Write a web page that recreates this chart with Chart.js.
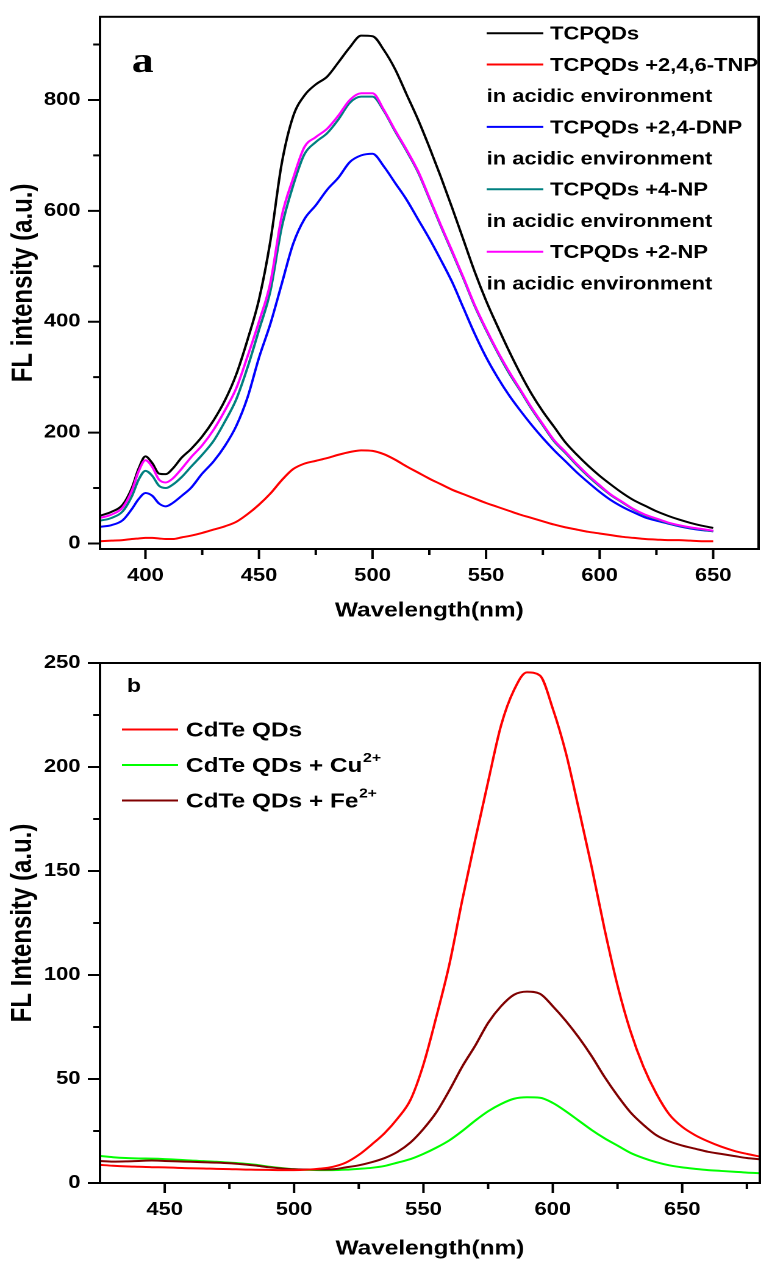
<!DOCTYPE html>
<html>
<head>
<meta charset="utf-8">
<script src="https://cdn.jsdelivr.net/npm/chart.js@4/dist/chart.umd.min.js"></script>
<style>
  html, body { margin: 0; padding: 0; background: #ffffff; width: 761px; height: 1266px; overflow: hidden; }
  .wrap { position: absolute; left: 0; transform-origin: 0 0; transform: scaleX(1.2196); }
</style>
</head>
<body>
<div class="wrap" style="top:0px;width:624px;height:632px;"><canvas id="chartA" width="624" height="632"></canvas></div>
<div class="wrap" style="top:632px;width:624px;height:634px;"><canvas id="chartB" width="624" height="634"></canvas></div>
<script>
// ---------------- Panel a data ----------------
const aWavelength = [380,385,390,394,397,400,403,406,409,412,416,420,425,430,435,440,445,450,455,460,465,470,475,480,485,490,495,500,505,510,515,520,525,530,535,540,545,550,555,560,565,570,575,580,585,590,595,600,605,610,615,620,625,630,635,640,645,650];
const aTCPQDs = [50,57,70,100,135,157,145,126,125,135,155,170,193,222,258,305,368,440,545,685,770,808,828,842,868,895,916,915,890,855,810,765,715,662,606,548,490,438,392,348,307,270,238,210,182,160,140,122,106,91,78,68,58,50,43,37,32,28];
const aTNP = [4,5,6,8,9,10,10,9,8,8,11,14,19,25,31,39,53,70,90,114,134,144,149,154,160,165,168,167,161,151,139,128,117,107,97,89,81,73,66,59,52,46,40,34,29,25,21,18,15,12,10,8,7,6,6,5,4,4];
const aDNP = [30,33,42,62,80,91,86,72,67,73,86,100,126,148,176,212,264,335,396,468,540,585,610,638,660,688,700,703,680,650,620,585,550,512,472,425,378,336,300,268,240,214,190,168,148,128,110,93,78,66,56,47,41,36,31,27,24,22];
const a4NP = [41,46,58,85,115,131,122,104,100,106,120,138,160,185,220,260,318,385,455,570,645,702,724,740,765,795,806,806,780,743,708,670,622,573,526,478,428,385,345,308,276,243,213,184,163,141,121,103,87,74,61,51,44,37,32,28,25,22];
const a2NP = [46,52,65,95,130,150,138,115,110,117,135,155,177,205,240,280,338,400,470,590,658,715,733,748,772,800,812,812,782,745,710,672,624,575,528,480,430,387,347,311,278,245,215,186,165,143,123,105,88,75,62,52,45,38,33,29,26,23];
const aSeriesLines = [
  ['TCPQDs'],
  ['TCPQDs +2,4,6-TNP', 'in acidic environment'],
  ['TCPQDs +2,4-DNP', 'in acidic environment'],
  ['TCPQDs +4-NP', 'in acidic environment'],
  ['TCPQDs +2-NP', 'in acidic environment']
];
const aColors = ['#000000', '#ff0000', '#0000ff', '#008080', '#ff00ff'];
const aXMajor = [400,450,500,550,600,650];
const aXMinor = [425,475,525,575,625];
const aYMajor = [0,200,400,600,800];
const aYMinor = [100,300,500,700,900];

// ---------------- Panel b data ----------------
const bWavelength = [425,430,435,440,445,450,455,460,465,470,475,480,485,490,495,500,505,510,515,520,525,530,535,540,545,550,555,560,565,570,575,580,585,590,595,600,605,610,615,620,625,630,635,640,645,650,655,660,665,670,675,680];
const bCdTe = [8.7,8.3,8.0,7.8,7.6,7.5,7.3,7.1,7.0,6.8,6.7,6.5,6.4,6.3,6.2,6.2,6.4,6.9,7.8,9.8,13.5,18.5,24,31,40,57,80,105,136,165,193,220,237,245.5,244,228,207,180,152,122,95,73,56,43,33,27,23,20,17.5,15.5,14,12.7];
const bCu = [13,12.4,12,11.8,11.7,11.5,11.2,10.8,10.5,10.2,9.8,9.4,8.8,7.9,7.2,6.6,6.3,6.2,6.2,6.4,6.8,7.3,8.2,9.8,11.5,14,17,20.5,25,30,34.5,38,40.5,41.2,41,38.5,34.5,30,25.5,21.5,18,14.5,12,10,8.5,7.5,6.8,6.2,5.8,5.4,5,4.7];
const bFe = [10.6,10.3,10.4,10.6,10.8,10.6,10.4,10.2,10,9.8,9.5,9,8.4,7.6,7,6.6,6.5,6.5,6.6,7.5,8.5,10,12,15,19.5,26,34,44.5,56,66,77,85,90.5,92,91,85,78,70,61,51,42,34,28,23,20,18,16.5,15,14,13,12,11.4];
const bSeriesLines = [
  [['CdTe QDs']],
  [['CdTe QDs + Cu', '2+']],
  [['CdTe QDs + Fe', '2+']]
];
const bColors = ['#ff0000', '#00ff00', '#800000'];
const bXMajor = [450,500,550,600,650];
const bXMinor = [475,525,575,625,675];
const bYMajor = [0,50,100,150,200,250];
const bYMinor = [25,75,125,175,225];

// ---------------- helpers ----------------
const FAMILY = '"Liberation Sans", Arial, Helvetica, sans-serif';
Chart.defaults.font.family = FAMILY;
Chart.defaults.font.weight = 'bold';
Chart.defaults.color = '#000';

function pts(xs, ys) { return xs.map((x, i) => ({ x: x, y: ys[i] })); }
function labelOf(lines) { return lines.map(l => Array.isArray(l) ? l.join('') : l).join(' '); }

const frame = {
  id: 'frame',
  afterDatasetsDraw(chart, args, o) {
    const ctx = chart.ctx, a = chart.chartArea, x = chart.scales.x, y = chart.scales.y;
    ctx.save();
    ctx.strokeStyle = '#000';
    ctx.lineWidth = 2;
    ctx.strokeRect(a.left, a.top, a.right - a.left, a.bottom - a.top);
    ctx.beginPath();
    o.xMajor.forEach(v => { const p = x.getPixelForValue(v); ctx.moveTo(p, a.bottom); ctx.lineTo(p, a.bottom + 10); });
    o.xMinor.forEach(v => { const p = x.getPixelForValue(v); ctx.moveTo(p, a.bottom); ctx.lineTo(p, a.bottom + 6); });
    o.yMajor.forEach(v => { const p = y.getPixelForValue(v); ctx.moveTo(a.left, p); ctx.lineTo(a.left - 10, p); });
    o.yMinor.forEach(v => { const p = y.getPixelForValue(v); ctx.moveTo(a.left, p); ctx.lineTo(a.left - 5.5, p); });
    ctx.stroke();
    ctx.restore();
  }
};

const seriesKey = {
  id: 'seriesKey',
  afterDraw(chart, args, o) {
    const ctx = chart.ctx;
    ctx.save();
    ctx.textBaseline = 'alphabetic';
    ctx.textAlign = 'left';
    ctx.fillStyle = '#000';
    let row = 0;
    o.entries.forEach((lines, i) => {
      const ds = chart.data.datasets[i];
      lines.forEach((ln, j) => {
        const cy = o.top + row * o.step;
        const base = cy + o.fontSize * 0.716 / 2;
        let tx = o.textX;
        if (j === 0) {
          ctx.strokeStyle = ds.borderColor;
          ctx.lineWidth = 2;
          ctx.beginPath();
          ctx.moveTo(o.lineX0, cy);
          ctx.lineTo(o.lineX1, cy);
          ctx.stroke();
        } else {
          tx = o.lineX0;
        }
        const parts = Array.isArray(ln) ? ln : [ln];
        ctx.font = 'bold ' + o.fontSize + 'px ' + FAMILY;
        ctx.fillText(parts[0], tx, base);
        if (parts[1]) {
          const w = ctx.measureText(parts[0]).width;
          ctx.font = 'bold ' + o.supSize + 'px ' + FAMILY;
          ctx.fillText(parts[1], tx + w + 0.5, base - o.supRaise);
        }
        row++;
      });
    });
    if (o.letter) {
      ctx.font = o.letter.font;
      ctx.fillText(o.letter.text, o.letter.x, o.letter.y);
    }
    ctx.restore();
  }
};

function axisX(min, max, majors, title, titlePadBottom, height) {
  return {
    type: 'linear', position: 'bottom', min: min, max: max,
    afterBuildTicks: ax => { ax.ticks = majors.map(v => ({ value: v })); },
    afterFit: ax => { ax.height = height; },
    grid: { display: true, drawOnChartArea: false, drawTicks: true, tickLength: 10, color: 'rgba(0,0,0,0)' },
    border: { display: false },
    ticks: { padding: 6, autoSkip: false, maxRotation: 0, minRotation: 0, color: '#000', font: { size: 18, weight: 'bold' }, callback: v => String(v) },
    title: { display: true, text: title, color: '#000', font: { size: 20, weight: 'bold' }, padding: { top: 0, bottom: titlePadBottom } }
  };
}
function axisY(min, max, majors, title, titlePadTop, width, titleSize) {
  return {
    type: 'linear', position: 'left', min: min, max: max,
    afterBuildTicks: ax => { ax.ticks = majors.map(v => ({ value: v })); },
    afterFit: ax => { ax.width = width; },
    grid: { display: true, drawOnChartArea: false, drawTicks: true, tickLength: 10, color: 'rgba(0,0,0,0)' },
    border: { display: false },
    ticks: { padding: 6, autoSkip: false, color: '#000', font: { size: 18, weight: 'bold' }, callback: v => String(v) },
    title: { display: true, text: title, color: '#000', font: { size: titleSize, weight: 'bold' }, padding: { top: titlePadTop, bottom: 0 } }
  };
}
function lineSet(label, color, data, order) {
  return { label: label, data: data, borderColor: color, backgroundColor: color, borderWidth: 2, pointRadius: 0, pointHoverRadius: 0, fill: false, cubicInterpolationMode: 'monotone', order: order };
}

// ---------------- Panel a ----------------
const aValues = [aTCPQDs, aTNP, aDNP, a4NP, a2NP];
const aOrder = [2, 4, 3, 1, 0];
new Chart(document.getElementById('chartA'), {
  type: 'line',
  data: { datasets: aValues.map((vals, i) => lineSet(labelOf(aSeriesLines[i]), aColors[i], pts(aWavelength, vals), aOrder[i])) },
  options: {
    responsive: false, animation: false, devicePixelRatio: 2,
    layout: { padding: { top: 16, right: 2, left: 0, bottom: 0 } },
    events: [],
    plugins: {
      legend: { display: false }, tooltip: { enabled: false },
      frame: { xMajor: aXMajor, xMinor: aXMinor, yMajor: aYMajor, yMinor: aYMinor },
      seriesKey: { entries: aSeriesLines, top: 33.3, step: 31.2, lineX0: 399, lineX1: 445.5, textX: 451, fontSize: 18, supSize: 12, supRaise: 8,
                   letter: { text: 'a', font: 'bold 36px "Liberation Serif", "Times New Roman", serif', x: 108, y: 72 } }
    },
    scales: {
      x: axisX(380, 670, aXMajor, 'Wavelength(nm)', 9, 83),
      y: axisY(-10, 950, aYMajor, 'FL intensity (a.u.)', 5, 82, 24)
    }
  },
  plugins: [frame, seriesKey]
});

// ---------------- Panel b ----------------
const bValues = [bCdTe, bCu, bFe];
const bOrder = [0, 2, 1];
new Chart(document.getElementById('chartB'), {
  type: 'line',
  data: { datasets: bValues.map((vals, i) => lineSet(labelOf(bSeriesLines[i]), bColors[i], pts(bWavelength, vals), bOrder[i])) },
  options: {
    responsive: false, animation: false, devicePixelRatio: 2,
    layout: { padding: { top: 31, right: 1, left: 0, bottom: 0 } },
    events: [],
    plugins: {
      legend: { display: false }, tooltip: { enabled: false },
      frame: { xMajor: bXMajor, xMinor: bXMinor, yMajor: bYMajor, yMinor: bYMinor },
      seriesKey: { entries: bSeriesLines, top: 97.5, step: 35.5, lineX0: 100, lineX1: 146, textX: 152.5, fontSize: 20, supSize: 13, supRaise: 10,
                   letter: { text: 'b', font: 'bold 19px ' + FAMILY, x: 104, y: 60 } }
    },
    scales: {
      x: axisX(425, 680, bXMajor, 'Wavelength(nm)', 5, 83),
      y: axisY(0, 250, bYMajor, 'FL Intensity (a.u.)', 4.5, 82, 24)
    }
  },
  plugins: [frame, seriesKey]
});
</script>
</body>
</html>
